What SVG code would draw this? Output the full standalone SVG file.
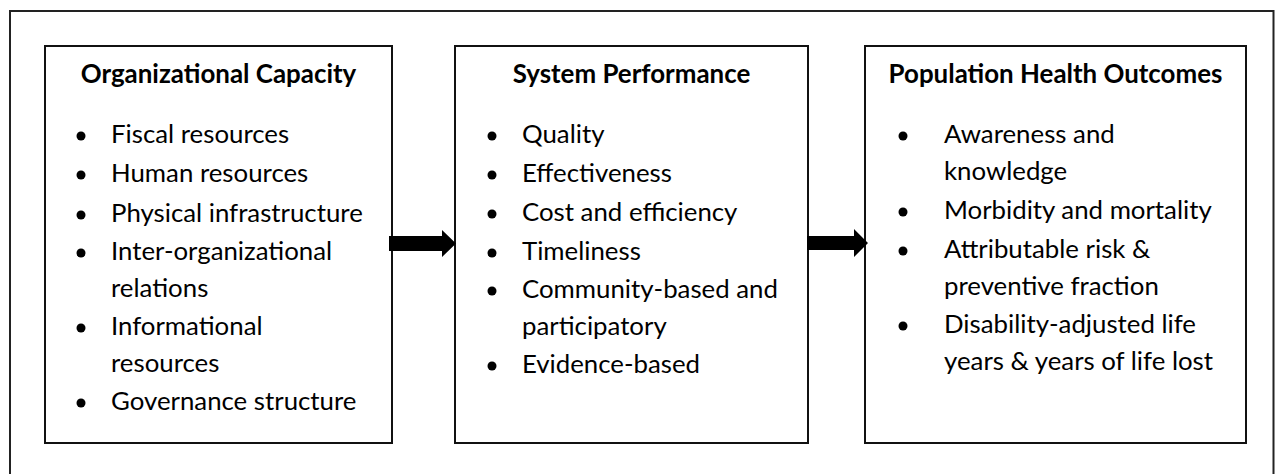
<svg xmlns="http://www.w3.org/2000/svg" width="1275" height="474" viewBox="0 0 1275 474">
  <defs>
    <style>
      .frame { fill: none; stroke: #111; stroke-width: 2; }
      .outer { fill: none; stroke: #222; stroke-width: 2; }
      .title { font-family: Lato, "Liberation Sans", sans-serif; font-size: 25.9px; font-weight: bold; fill: #000; text-anchor: middle; }
      .item { font-family: Lato, "Liberation Sans", sans-serif; font-size: 25.8px; fill: #000; }
      .dot { fill: #000; }
      .arrow { fill: #000; }
    </style>
  </defs>
  <rect x="0" y="0" width="1275" height="474" fill="#fff"/>
  <!-- surrounding frame, bottom edge runs off the canvas -->
  <path class="outer" d="M10 480 V11 H1273.5 V480"/>

  <g id="organizational-capacity">
    <rect class="frame" x="45" y="46" width="347" height="397"/>
    <text class="title" x="218.5" y="83">Organizational Capacity</text>
    <circle class="dot" cx="81" cy="136" r="4.5"/>
    <text class="item" x="111" y="143">Fiscal resources</text>
    <circle class="dot" cx="81" cy="175" r="4.5"/>
    <text class="item" x="111" y="182">Human resources</text>
    <circle class="dot" cx="81" cy="215" r="4.5"/>
    <text class="item" x="111" y="222">Physical infrastructure</text>
    <circle class="dot" cx="81" cy="253" r="4.5"/>
    <text class="item" x="111" y="260">Inter-organizational</text>
    <text class="item" x="111" y="297">relations</text>
    <circle class="dot" cx="81" cy="328" r="4.5"/>
    <text class="item" x="111" y="335">Informational</text>
    <text class="item" x="111" y="372">resources</text>
    <circle class="dot" cx="81" cy="403" r="4.5"/>
    <text class="item" x="111" y="410">Governance structure</text>
  </g>

  <g id="system-performance">
    <rect class="frame" x="455" y="46" width="353" height="397"/>
    <text class="title" x="631.5" y="83">System Performance</text>
    <circle class="dot" cx="492" cy="136" r="4.5"/>
    <text class="item" x="522" y="143">Quality</text>
    <circle class="dot" cx="492" cy="175" r="4.5"/>
    <text class="item" x="522" y="182">Effectiveness</text>
    <circle class="dot" cx="492" cy="214" r="4.5"/>
    <text class="item" x="522" y="221">Cost and efficiency</text>
    <circle class="dot" cx="492" cy="253" r="4.5"/>
    <text class="item" x="522" y="260">Timeliness</text>
    <circle class="dot" cx="492" cy="291" r="4.5"/>
    <text class="item" x="522" y="298">Community-based and</text>
    <text class="item" x="522" y="335">participatory</text>
    <circle class="dot" cx="492" cy="366" r="4.5"/>
    <text class="item" x="522" y="373">Evidence-based</text>
  </g>

  <g id="population-health-outcomes">
    <rect class="frame" x="865" y="46" width="381" height="397"/>
    <text class="title" x="1055.5" y="83">Population Health Outcomes</text>
    <circle class="dot" cx="903" cy="136" r="4.5"/>
    <text class="item" x="944" y="143">Awareness and</text>
    <text class="item" x="944" y="180">knowledge</text>
    <circle class="dot" cx="903" cy="212" r="4.5"/>
    <text class="item" x="944" y="219">Morbidity and mortality</text>
    <circle class="dot" cx="903" cy="251" r="4.5"/>
    <text class="item" x="944" y="258">Attributable risk &amp;</text>
    <text class="item" x="944" y="295">preventive fraction</text>
    <circle class="dot" cx="903" cy="326" r="4.5"/>
    <text class="item" x="944" y="333">Disability-adjusted life</text>
    <text class="item" x="944" y="370">years &amp; years of life lost</text>
  </g>

  <g id="connectors">
    <polygon class="arrow" points="389,236 442,236 442,230 456,243.5 442,257 442,251 389,251"/>
    <polygon class="arrow" points="807,236 854,236 854,229 868,243 854,257 854,250 807,250"/>
  </g>
</svg>
